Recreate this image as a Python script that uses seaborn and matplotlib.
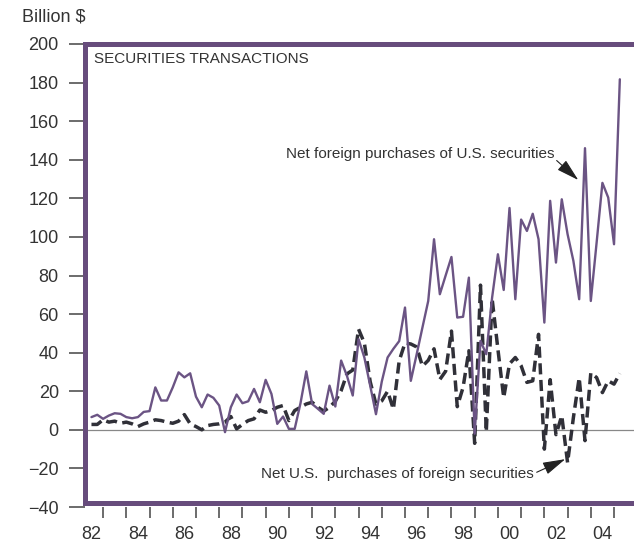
import numpy as np
import pandas as pd
import matplotlib
matplotlib.use('Agg')
import matplotlib.pyplot as plt
import seaborn as sns

# quarterly data, billion $
quarters = pd.period_range('1982Q3', periods=92, freq='Q')

foreign_purchases_us = [
    6.6, 7.8, 5.7, 7.4, 8.6, 8.3, 6.6, 6.0, 6.6, 9.3,
    9.7, 22.0, 15.2, 15.2, 22.0, 29.8, 27.2, 29.3, 17.2, 11.7,
    18.3, 16.6, 12.6, -1.2, 11.7, 18.3, 13.8, 14.8, 21.2, 14.3,
    25.9, 18.6, 3.1, 6.9, 0.5, 0.5, 13.8, 30.3, 13.4, 10.9,
    8.3, 22.9, 12.1, 35.9, 28.0, 17.8, 47.0, 37.5, 23.0, 8.1,
    25.0, 37.5, 42.0, 46.0, 63.4, 25.4, 39.0, 53.0, 66.8, 98.8,
    70.3, 80.0, 89.6, 58.2, 58.6, 78.9, -2.0, 46.1, 39.2, 68.5,
    91.0, 72.5, 115.0, 67.7, 109.0, 103.1, 112.0, 98.8, 55.6, 118.7,
    86.7, 119.5, 101.4, 87.6, 67.7, 146.0, 66.8, 97.0, 128.0, 120.4,
    96.2, 181.7,
]

us_purchases_foreign = [
    2.8, 2.8, 5.2, 4.0, 4.5, 3.4, 4.0, 3.1, 1.7, 3.1,
    4.0, 5.2, 4.8, 4.0, 3.4, 4.5, 7.9, 3.1, 1.7, 0.0,
    2.2, 2.8, 3.1, 4.0, 6.9, 0.5, 2.8, 4.8, 5.7, 10.3,
    9.1, 10.0, 11.7, 12.6, 4.8, 10.0, 11.7, 13.4, 14.3, 11.7,
    9.7, 11.7, 14.8, 20.3, 29.0, 31.0, 52.2, 45.0, 25.0, 13.3,
    15.0, 20.0, 10.7, 35.8, 45.0, 44.5, 43.0, 33.0, 36.0, 42.0,
    26.1, 30.4, 51.2, 12.0, 22.0, 41.0, -7.0, 75.0, -1.0, 68.0,
    41.8, 16.7, 34.2, 37.5, 33.2, 24.6, 25.4, 49.5, -10.0, 26.0,
    -2.5, 7.3, -17.0, 6.3, 27.0, -5.6, 29.5, 27.1, 19.3, 25.4,
    23.7, 29.2,
]

year_labels = ['82', '84', '86', '88', '90', '92', '94', '96', '98', '00', '02', '04']

years = np.array([q.year + (q.quarter - 1) / 4 for q in quarters])
df = pd.DataFrame({'year': years,
                   'foreign': foreign_purchases_us,
                   'us': us_purchases_foreign})

purple = '#6b5484'
frame_col = '#674c7c'
dark = '#303038'
txt = '#333333'

sns.set_style('white')
plt.rcParams['font.family'] = ['Liberation Sans', 'DejaVu Sans']

fig = plt.figure(figsize=(6.34, 5.44), dpi=100)
ax = fig.add_axes([84.5 / 634, 37 / 544, 1 - 84.5 / 634, 463 / 544])

ax.axhline(0, color='#888888', lw=0.9, zorder=1)
sns.lineplot(data=df, x='year', y='us', ax=ax, color=dark, lw=2.5,
             linestyle=(0, (3.2, 1.6)), zorder=3)
sns.lineplot(data=df, x='year', y='foreign', ax=ax, color=purple, lw=1.7, zorder=4)

ax.set_xlim(1982.2, 2005.86)
ax.set_ylim(-40, 200)

# frame
for s in ['right', 'bottom']:
    ax.spines[s].set_visible(False)
ax.spines['left'].set_color(frame_col)
ax.spines['top'].set_color(frame_col)
ax.spines['left'].set_linewidth(3.6)
ax.spines['top'].set_linewidth(3.6)
ax.spines['left'].set_bounds(-38, 200)
ax.axhline(-38, color=frame_col, lw=3.6, clip_on=False, zorder=5)

ax.set_yticks(np.arange(-40, 201, 20))
ax.tick_params(axis='y', direction='out', length=11.5, width=1.1, color='#444444',
               pad=7, labelsize=13, labelcolor=txt, left=True)

ax.set_xticks(np.arange(1983, 2006))
ax.set_xticklabels([])
ax.set_xticks(np.arange(1982.5, 2005, 2), minor=True)
ax.set_xticklabels(year_labels, minor=True)
ax.tick_params(axis='x', which='major', direction='out', length=8, width=1.1,
               color='#444444', bottom=True)
ax.tick_params(axis='x', which='minor', length=0, pad=14, labelsize=13,
               labelcolor=txt)

ax.set_xlabel('')
ax.set_ylabel('')
fig.text(22 / 634, 1 - 17 / 544, 'Billion $', fontsize=13, color=txt,
         ha='left', va='center')

ax.text(1982.62, 192.3, 'SECURITIES TRANSACTIONS', fontsize=11, color=txt,
        ha='left', va='center')

ax.text(1990.88, 143, 'Net foreign purchases of U.S. securities', fontsize=11,
        color=txt, ha='left', va='center')
ax.annotate('', xy=(2003.46, 129.5), xytext=(2002.53, 139.6),
            arrowprops=dict(arrowstyle='-|>,head_length=1.0,head_width=0.28',
                            color='#222222', lw=0.8, shrinkA=0, shrinkB=0,
                            mutation_scale=14))

ax.text(1989.8, -23, 'Net U.S.  purchases of foreign securities', fontsize=11,
        color=txt, ha='left', va='center')
ax.annotate('', xy=(2002.9, -15.2), xytext=(2001.67, -22.0),
            arrowprops=dict(arrowstyle='-|>,head_length=1.0,head_width=0.28',
                            color='#222222', lw=0.8, shrinkA=0, shrinkB=0,
                            mutation_scale=14))

fig.savefig('out.png', dpi=100)
